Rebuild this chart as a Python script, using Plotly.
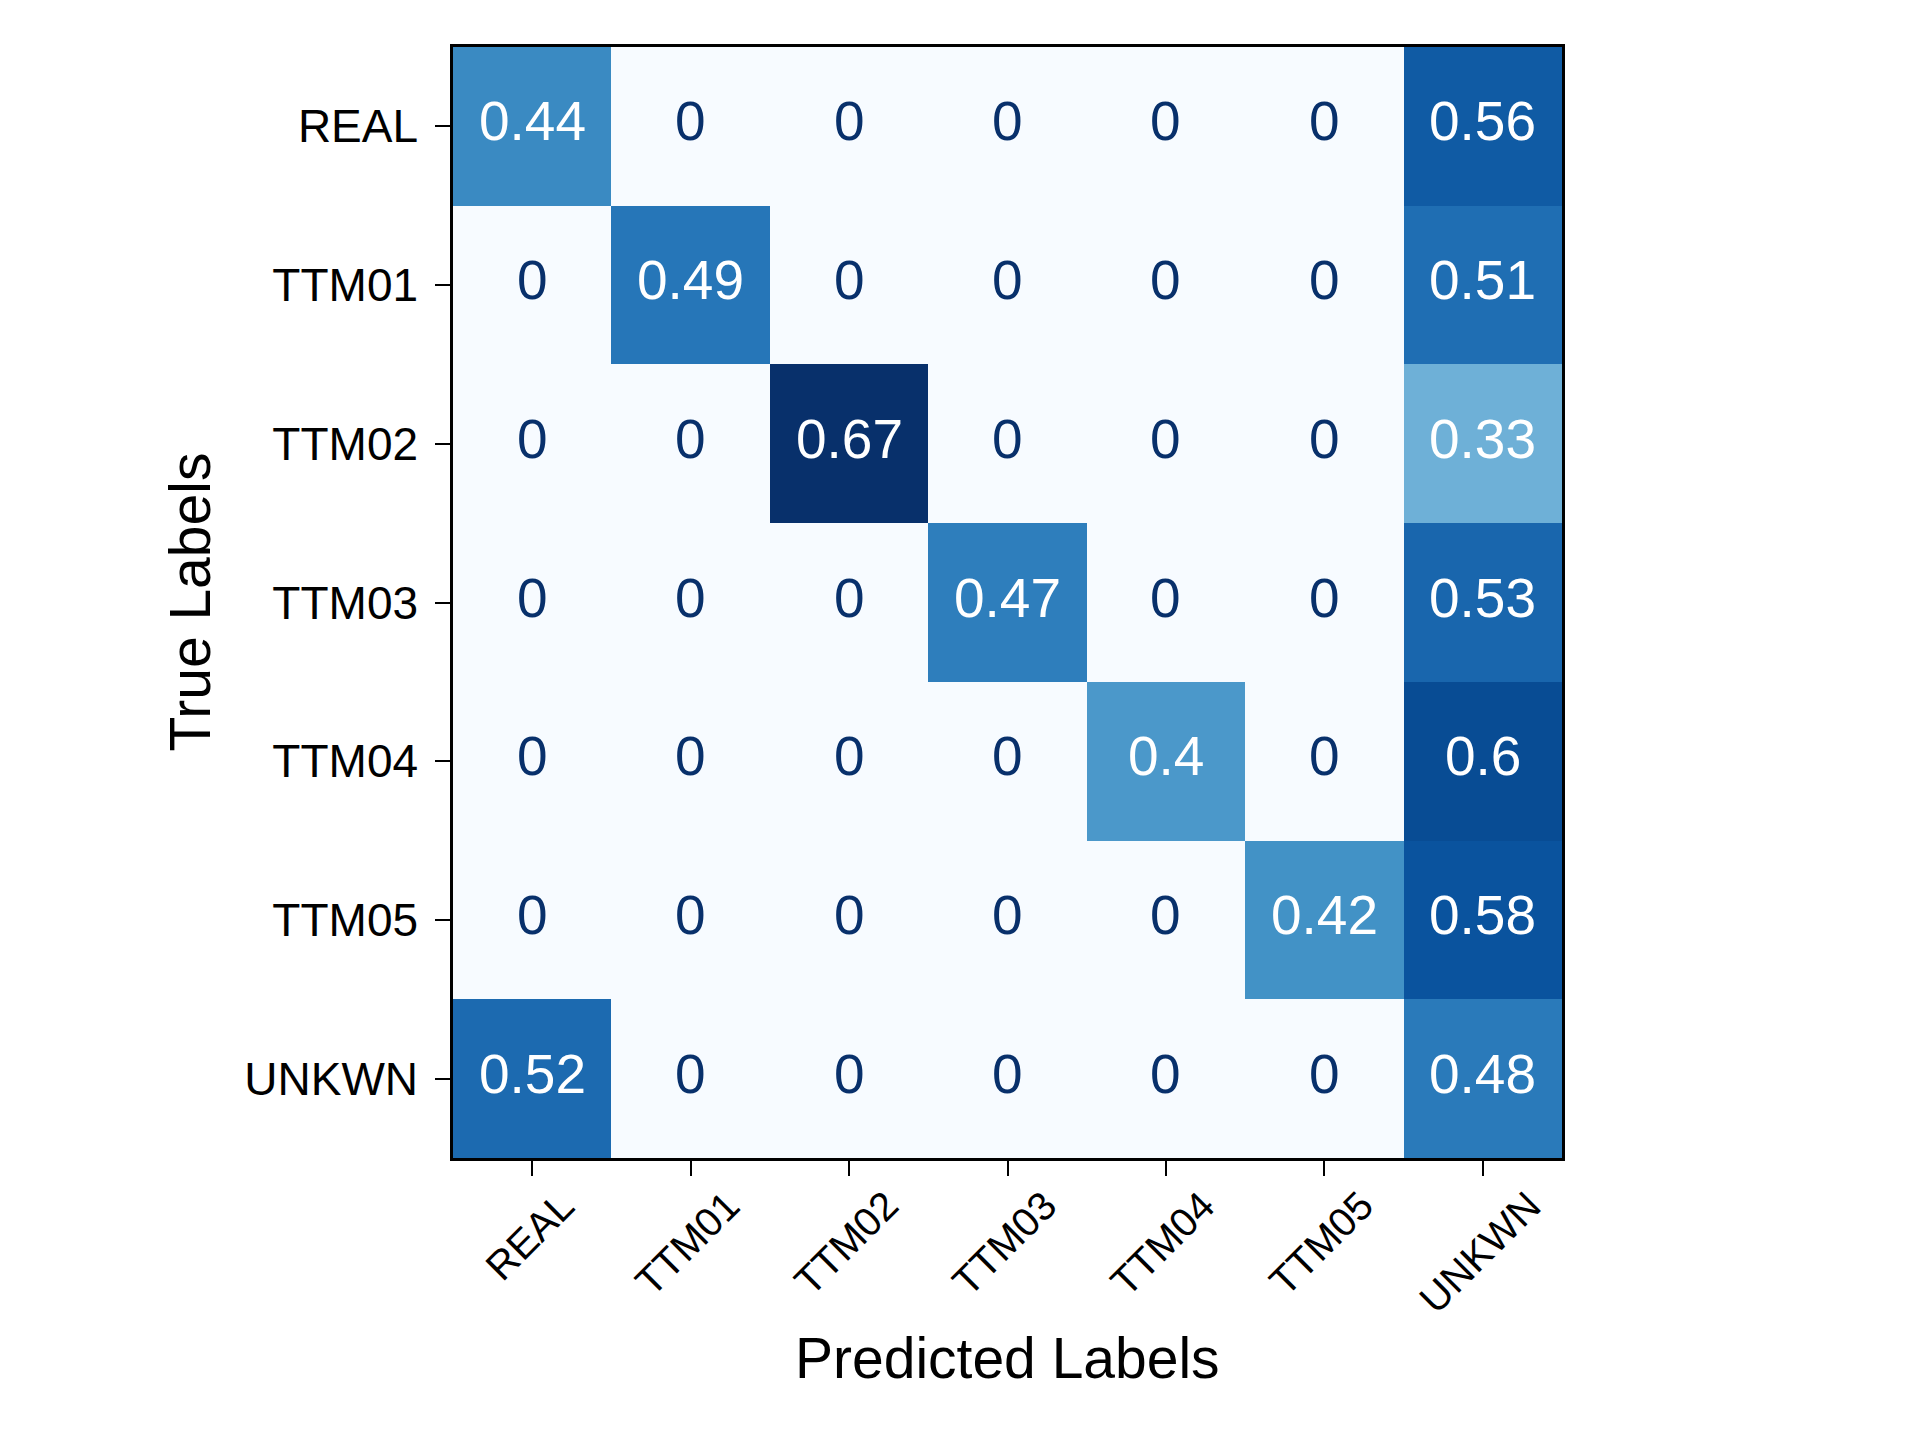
import plotly.graph_objects as go

# labels and confusion matrix values (rows = true, cols = predicted)
labels = ["REAL", "TTM01", "TTM02", "TTM03", "TTM04", "TTM05", "UNKWN"]
row_real = [0.44, 0, 0, 0, 0, 0, 0.56]
row_ttm01 = [0, 0.49, 0, 0, 0, 0, 0.51]
row_ttm02 = [0, 0, 0.67, 0, 0, 0, 0.33]
row_ttm03 = [0, 0, 0, 0.47, 0, 0, 0.53]
row_ttm04 = [0, 0, 0, 0, 0.4, 0, 0.6]
row_ttm05 = [0, 0, 0, 0, 0, 0.42, 0.58]
row_unkwn = [0.52, 0, 0, 0, 0, 0, 0.48]
matrix = [row_real, row_ttm01, row_ttm02, row_ttm03, row_ttm04, row_ttm05, row_unkwn]

FONT = "Liberation Sans, Arial, sans-serif"

fig = go.Figure()
fig.add_trace(go.Heatmap(
    z=matrix,
    x=labels,
    y=labels,
    colorscale="Blues",
    zmin=0,
    zmax=max(max(r) for r in matrix),
    showscale=False,
))

# cell text: white on filled cells, dark blue on empty ones
annotations = []
for i, true_lab in enumerate(labels):
    for j, pred_lab in enumerate(labels):
        v = matrix[i][j]
        annotations.append(dict(
            x=pred_lab, y=true_lab, xref="x", yref="y",
            text=f"{v:g}", showarrow=False, yshift=5,
            font=dict(family=FONT, size=55,
                      color="white" if v > 0 else "#08306b"),
        ))

# x tick labels rotated 45 deg and centred under each tick (matplotlib style)
for lab in labels:
    annotations.append(dict(
        x=lab, xref="x", y=0, yref="paper",
        text=lab, showarrow=False, textangle=-45,
        xanchor="center", yanchor="top", yshift=-22, xshift=-3,
        font=dict(family=FONT, size=40, color="black"),
    ))

# axis titles
annotations.append(dict(
    x=0.5, xref="paper", y=0, yref="paper", yshift=-200,
    text="Predicted Labels", showarrow=False,
    xanchor="center", yanchor="middle",
    font=dict(family=FONT, size=57, color="black"),
))
annotations.append(dict(
    x=0, xref="paper", y=0.5, yref="paper", xshift=-264,
    text="True Labels", showarrow=False, textangle=-90,
    xanchor="center", yanchor="middle",
    font=dict(family=FONT, size=57, color="black"),
))

fig.update_layout(
    width=1920,
    height=1440,
    paper_bgcolor="white",
    plot_bgcolor="white",
    margin=dict(l=445, r=366, t=39, b=290),
    font=dict(family=FONT, color="black"),
    annotations=annotations,
    xaxis=dict(
        showticklabels=False,
        ticks="outside", ticklen=15, tickwidth=2, tickcolor="black",
        showline=True, linewidth=2.5, linecolor="black", mirror=True,
        showgrid=False, zeroline=False,
    ),
    yaxis=dict(
        autorange="reversed",
        tickfont=dict(size=46),
        ticks="outside", ticklen=15, tickwidth=2, tickcolor="black",
        ticklabelstandoff=8,
        showline=True, linewidth=2.5, linecolor="black", mirror=True,
        showgrid=False, zeroline=False,
    ),
)

fig.write_html("out.html")
